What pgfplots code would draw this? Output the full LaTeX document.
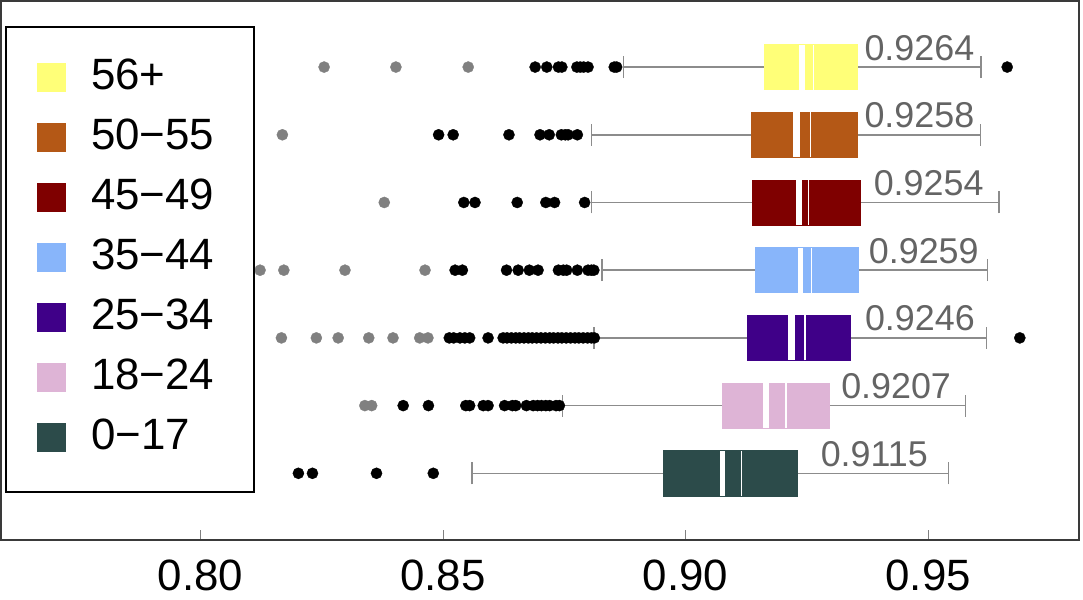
\documentclass[border=0pt]{standalone}
\usepackage{pgfplots}
\pgfplotsset{compat=1.18}
\usepgfplotslibrary{statistics}
\usepackage{pgfplotstable}
\usepackage{fontspec}
\setmainfont{Liberation Sans}
\definecolor{cA}{HTML}{FFFF78}
\definecolor{cB}{HTML}{B45816}
\definecolor{cC}{HTML}{7F0000}
\definecolor{cD}{HTML}{88B5FA}
\definecolor{cE}{HTML}{3F0088}
\definecolor{cF}{HTML}{DEB4D6}
\definecolor{cG}{HTML}{2C4B4A}
\definecolor{wgray}{HTML}{8C8C8C}
\definecolor{labgray}{HTML}{646464}
\definecolor{framec}{HTML}{3A3A3A}

\pgfplotstableread{
x y
0.8690 7
0.8714 7
0.8738 7
0.8745 7
0.8776 7
0.8783 7
0.8790 7
0.8799 7
0.8853 7
0.8858 7
0.9663 7
0.8491 6
0.8521 6
0.8636 6
0.8700 6
0.8719 6
0.8744 6
0.8752 6
0.8758 6
0.8777 6
0.8543 5
0.8566 5
0.8653 5
0.8712 5
0.8730 5
0.8792 5
0.8525 4
0.8540 4
0.8631 4
0.8655 4
0.8678 4
0.8696 4
0.8738 4
0.8748 4
0.8755 4
0.8777 4
0.8799 4
0.8806 4
0.8811 4
0.8513 3
0.8522 3
0.8535 3
0.8545 3
0.8555 3
0.8593 3
0.8624 3
0.8632 3
0.8641 3
0.8650 3
0.8658 3
0.8667 3
0.8676 3
0.8684 3
0.8693 3
0.8702 3
0.8711 3
0.8720 3
0.8728 3
0.8737 3
0.8745 3
0.8754 3
0.8763 3
0.8772 3
0.8780 3
0.8789 3
0.8798 3
0.8806 3
0.8812 3
0.9689 3
0.8418 2
0.8470 2
0.8547 2
0.8555 2
0.8583 2
0.8593 2
0.8627 2
0.8643 2
0.8650 2
0.8672 2
0.8686 2
0.8695 2
0.8703 2
0.8712 2
0.8720 2
0.8733 2
0.8740 2
0.8202 1
0.8231 1
0.8363 1
0.8480 1
}\blackout

\pgfplotstableread{
x y
0.8255 7
0.8403 7
0.8552 7
0.8169 6
0.8379 5
0.8123 4
0.8172 4
0.8298 4
0.8463 4
0.8167 3
0.8239 3
0.8284 3
0.8347 3
0.8397 3
0.8452 3
0.8469 3
0.8339 2
0.8353 2
}\grayout

\pgfplotsset{
  mybox/.style={
    boxplot/box extend=0.665,
    boxplot/whisker extend=0.325,
    boxplot/every whisker/.style={draw=wgray, line width=1.5bp, fill=none},
    boxplot/every median/.style={draw=white, line width=1.3bp},
    boxplot/every box/.style={draw=#1, fill=#1, line width=0.6bp},
  },
}
\tikzset{vlab/.style={font=\fontsize{36}{36}\selectfont, text=labgray, anchor=base, inner sep=0pt}}

\begin{document}
\begin{tikzpicture}
\useasboundingbox (0,0) rectangle (1083bp,600bp);
\begin{axis}[
  at={(1bp,60bp)}, anchor=south west,
  width=1078bp, height=539bp, scale only axis,
  xmin=0.7589, xmax=0.9811, ymin=0.015, ymax=7.976,
  clip=false,
  axis line style={draw=framec, line width=1.3bp},
  xtick={0.80,0.85,0.90,0.95},
  xticklabels={0.80,0.85,0.90,0.95},
  ytick=\empty,
  xtick pos=left,
  tick align=inside,
  major tick length=10bp,
  xtick style={draw=gray, line width=0.8bp},
  /pgf/number format/assume math mode=true,
  xticklabel style={font=\fontsize{44}{44}\selectfont, inner sep=0pt, text height=31.5bp, text depth=0pt, anchor=north, yshift=-19bp},
]
% 56+
\addplot[mybox=cA, boxplot prepared={lower whisker=0.8872, lower quartile=0.9162, median=0.9264, upper quartile=0.9354, upper whisker=0.9609, draw position=7}] coordinates {};
\addplot[fill=white, draw=none] coordinates {(0.9233,6.6675) (0.9246,6.6675) (0.9246,7.3325) (0.9233,7.3325)};
% 50-55
\addplot[mybox=cB, boxplot prepared={lower whisker=0.8806, lower quartile=0.9135, median=0.9258, upper quartile=0.9354, upper whisker=0.9608, draw position=6}] coordinates {};
\addplot[fill=white, draw=none] coordinates {(0.9222,5.6675) (0.9236,5.6675) (0.9236,6.3325) (0.9222,6.3325)};
% 45-49
\addplot[mybox=cC, boxplot prepared={lower whisker=0.8806, lower quartile=0.9137, median=0.9254, upper quartile=0.9360, upper whisker=0.9646, draw position=5}] coordinates {};
\addplot[fill=white, draw=none] coordinates {(0.9228,4.6675) (0.9241,4.6675) (0.9241,5.3325) (0.9228,5.3325)};
% 35-44
\addplot[mybox=cD, boxplot prepared={lower whisker=0.8828, lower quartile=0.9143, median=0.9259, upper quartile=0.9356, upper whisker=0.9622, draw position=4}] coordinates {};
\addplot[fill=white, draw=none] coordinates {(0.9231,3.6675) (0.9243,3.6675) (0.9243,4.3325) (0.9231,4.3325)};
% 25-34
\addplot[mybox=cE, boxplot prepared={lower whisker=0.8811, lower quartile=0.9128, median=0.9246, upper quartile=0.9339, upper whisker=0.9620, draw position=3}] coordinates {};
\addplot[fill=white, draw=none] coordinates {(0.9212,2.6675) (0.9225,2.6675) (0.9225,3.3325) (0.9212,3.3325)};
% 18-24
\addplot[mybox=cF, boxplot prepared={lower whisker=0.8746, lower quartile=0.9076, median=0.9207, upper quartile=0.9297, upper whisker=0.9577, draw position=2}] coordinates {};
\addplot[fill=white, draw=none] coordinates {(0.9159,1.6675) (0.9172,1.6675) (0.9172,2.3325) (0.9159,2.3325)};
% 0-17
\addplot[mybox=cG, boxplot prepared={lower whisker=0.8560, lower quartile=0.8954, median=0.9115, upper quartile=0.9231, upper whisker=0.9542, draw position=1}] coordinates {};
\addplot[fill=white, draw=none] coordinates {(0.9070,0.6675) (0.9082,0.6675) (0.9082,1.3325) (0.9070,1.3325)};

% outliers
\addplot[only marks, mark=*, mark size=5.6bp, color=gray, mark options={line width=0.3bp}] table[x=x,y=y] {\grayout};
\addplot[only marks, mark=*, mark size=5.6bp, color=black, mark options={line width=0.3bp}] table[x=x,y=y] {\blackout};

% median labels
\node[vlab] at (axis cs:0.9482,7.103) {0.9264};
\node[vlab] at (axis cs:0.9482,6.103) {0.9258};
\node[vlab] at (axis cs:0.9501,5.103) {0.9254};
\node[vlab] at (axis cs:0.9491,4.103) {0.9259};
\node[vlab] at (axis cs:0.9483,3.103) {0.9246};
\node[vlab] at (axis cs:0.9434,2.103) {0.9207};
\node[vlab] at (axis cs:0.9389,1.103) {0.9115};

\draw[draw=framec, line width=2.2bp] (rel axis cs:0,0) -- (rel axis cs:1,0);
\end{axis}

% legend
\draw[line width=2bp, fill=white] (6bp,573bp) rectangle (254bp,108bp);
\foreach \c/\t [count=\i from 0] in {cA/56+,cB/50−55,cC/45−49,cD/35−44,cE/25−34,cF/18−24,cG/0−17}{
  \pgfmathsetmacro{\yc}{522-60*\i}
  \fill[\c] (37bp,\yc bp-14.5bp) rectangle (66bp,\yc bp+14.5bp);
  \node[anchor=base west, inner sep=0pt, font=\fontsize{44}{44}\selectfont] at (91bp,\yc bp-11.3bp) {\t};
}
\end{tikzpicture}
\end{document}
